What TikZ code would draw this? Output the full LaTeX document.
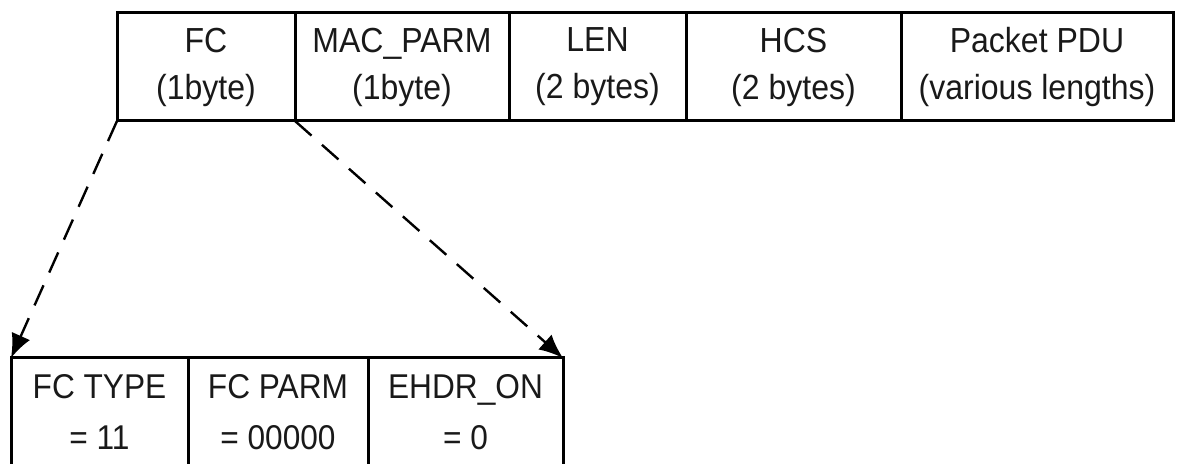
\documentclass[tikz,border=0pt]{standalone}
\usepackage{fontspec}
\setmainfont[FakeStretch=0.92]{Liberation Sans}
\usetikzlibrary{arrows.meta}
\begin{document}
\begin{tikzpicture}[x=0.5pt,y=-0.5pt,
  field/.style={draw=black, line width=1.5pt, rectangle, inner sep=0pt, outer sep=0pt,
    align=center, minimum height=54pt, text=black!90},
  hdrtext/.style={font=\fontsize{17.4pt}{23.5pt}\selectfont},
  subtext/.style={font=\fontsize{17.2pt}{25.5pt}\selectfont},
  expand/.style={line width=1.2pt, dash pattern=on 11pt off 7pt,
    -{Latex[length=12pt,width=10pt]}}]
\useasboundingbox (0,0) rectangle (1180,464);

% MAC header fields
\node[field, hdrtext, minimum width=89pt]    (fc)  at (206,67)    {FC\\(1byte)};
\node[field, hdrtext, minimum width=107pt]   (mac) at (402,67)    {MAC\_PARM\\(1byte)};
\node[field, hdrtext, minimum width=88.5pt]  (len) at (597.5,67)  {LEN\\(2 bytes)};
\node[field, hdrtext, minimum width=107.5pt] (hcs) at (793.5,67)  {HCS\\(2 bytes)};
\node[field, hdrtext, minimum width=136pt]   (pdu) at (1037,67)   {Packet PDU\\(various lengths)};

% FC byte breakdown
\node[field, subtext, minimum width=88.5pt]  (type) at (99.5,412)  {FC TYPE\\= 11};
\node[field, subtext, minimum width=90pt]    (parm) at (278,412)   {FC PARM\\= 00000};
\node[field, subtext, minimum width=97.5pt]  (ehdr) at (465.5,412) {EHDR\_ON\\= 0};

% expansion of the FC field
\draw[expand] (fc.south west) -- (type.north west);
\draw[expand] (fc.south east) -- (ehdr.north east);
\end{tikzpicture}
\end{document}
